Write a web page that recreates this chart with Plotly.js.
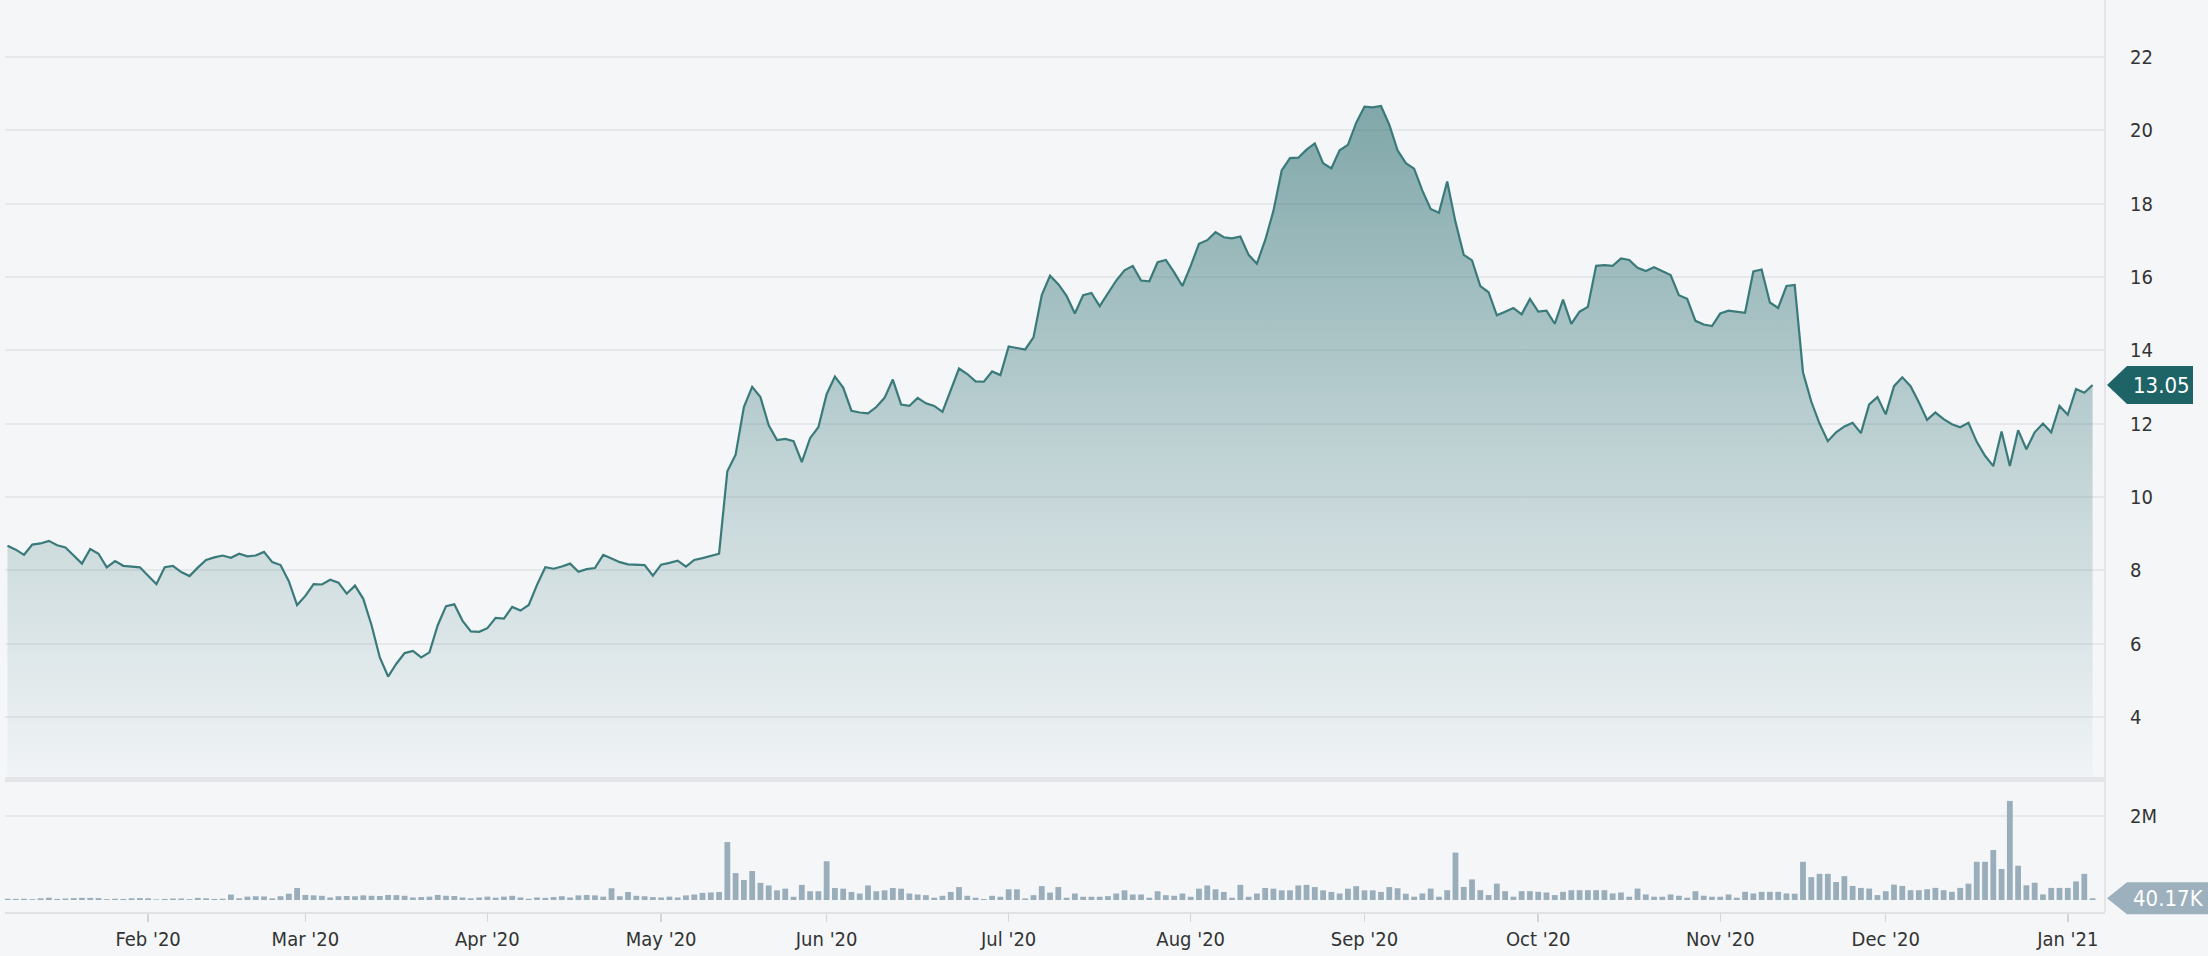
<!DOCTYPE html>
<html>
<head>
<meta charset="utf-8">
<script src="https://cdn.plot.ly/plotly-3.0.1.min.js"></script>
<style>
  html, body { margin: 0; padding: 0; background: #f4f6f8; }
  #chart { width: 2208px; height: 956px; }
</style>
</head>
<body>
<div id="chart"></div>
<script>
// trading calendar (weekends + market holidays skipped)
const FIRST_DAY = '2020-01-08';
const LAST_DAY = '2021-01-07';
const HOLIDAYS = [
    '2020-01-20', '2020-02-17', '2020-04-10', '2020-05-25', '2020-07-03',
    '2020-09-07', '2020-11-26', '2020-12-25', '2021-01-01',
];

const MONTH_TICKS = [
    '2020-02-03', '2020-03-02', '2020-04-01', '2020-05-01', '2020-06-01', '2020-07-01',
    '2020-08-03', '2020-09-01', '2020-10-01', '2020-11-02', '2020-12-01', '2021-01-04',
];
const MONTH_LABELS = [
    "Feb '20", "Mar '20", "Apr '20", "May '20", "Jun '20", "Jul '20",
    "Aug '20", "Sep '20", "Oct '20", "Nov '20", "Dec '20", "Jan '21",
];

// daily close
const PRICE = [
    8.67, 8.56, 8.42, 8.70, 8.73, 8.80, 8.68, 8.62, 8.40, 8.18,
    8.58, 8.45, 8.08, 8.25, 8.12, 8.10, 8.08, 7.85, 7.62, 8.08,
    8.12, 7.95, 7.84, 8.07, 8.28, 8.35, 8.40, 8.34, 8.45, 8.38,
    8.40, 8.50, 8.22, 8.14, 7.70, 7.05, 7.30, 7.62, 7.61, 7.74,
    7.66, 7.36, 7.58, 7.22, 6.50, 5.62, 5.10, 5.45, 5.74, 5.80,
    5.62, 5.76, 6.50, 7.02, 7.07, 6.62, 6.33, 6.32, 6.42, 6.70,
    6.68, 7.00, 6.90, 7.05, 7.60, 8.08, 8.04, 8.10, 8.18, 7.96,
    8.03, 8.06, 8.42, 8.32, 8.22, 8.16, 8.15, 8.14, 7.85, 8.15,
    8.20, 8.26, 8.10, 8.28, 8.33, 8.38, 8.45, 10.70, 11.15, 12.45,
    13.00, 12.72, 11.95, 11.55, 11.58, 11.52, 10.95, 11.60, 11.90, 12.80,
    13.28, 12.98, 12.35, 12.30, 12.28, 12.45, 12.70, 13.20, 12.52, 12.48,
    12.70, 12.55, 12.48, 12.32, 12.90, 13.50, 13.35, 13.15, 13.14, 13.42,
    13.32, 14.10, 14.06, 14.02, 14.35, 15.50, 16.03, 15.80, 15.48, 15.00,
    15.50, 15.56, 15.20, 15.55, 15.90, 16.18, 16.30, 15.90, 15.88, 16.40,
    16.46, 16.12, 15.75, 16.30, 16.90, 17.00, 17.22, 17.08, 17.05, 17.10,
    16.60, 16.36, 17.00, 17.80, 18.90, 19.24, 19.25, 19.47, 19.64, 19.10,
    18.96, 19.45, 19.60, 20.20, 20.64, 20.62, 20.66, 20.15, 19.45, 19.10,
    18.95, 18.35, 17.85, 17.75, 18.60, 17.50, 16.60, 16.45, 15.75, 15.58,
    14.95, 15.05, 15.15, 14.98, 15.40, 15.05, 15.08, 14.72, 15.38, 14.72,
    15.05, 15.18, 16.30, 16.32, 16.30, 16.50, 16.46, 16.25, 16.16, 16.26,
    16.15, 16.05, 15.50, 15.40, 14.80, 14.70, 14.66, 15.00, 15.08, 15.06,
    15.02, 16.15, 16.20, 15.30, 15.15, 15.75, 15.78, 13.40, 12.60, 12.00,
    11.52, 11.76, 11.92, 12.02, 11.74, 12.52, 12.72, 12.25, 13.02, 13.26,
    13.02, 12.58, 12.10, 12.30, 12.12, 11.98, 11.90, 12.02, 11.50, 11.12,
    10.84, 11.78, 10.84, 11.82, 11.30, 11.76, 12.00, 11.76, 12.48, 12.24,
    12.94, 12.84, 13.05,
];

// daily volume, thousands of shares
const VOLUME_K = [
    30, 25, 30, 20, 40, 55, 25, 35, 45, 50,
    50, 45, 20, 30, 25, 40, 45, 40, 15, 25,
    35, 35, 20, 50, 40, 25, 30, 130, 40, 80,
    90, 85, 40, 90, 150, 285, 120, 110, 100, 60,
    90, 95, 90, 110, 100, 95, 120, 115, 100, 60,
    70, 80, 120, 100, 95, 60, 40, 60, 80, 55,
    80, 100, 60, 30, 60, 50, 70, 90, 60, 110,
    120, 110, 80, 280, 90, 190, 100, 90, 70, 60,
    80, 60, 110, 130, 170, 180, 190, 1380, 640, 477,
    690, 408, 346, 230, 270, 77, 360, 208, 208, 923,
    285, 270, 192, 154, 346, 208, 230, 285, 270, 154,
    131, 115, 54, 100, 192, 308, 100, 54, 23, 100,
    77, 254, 254, 38, 115, 330, 177, 308, 54, 154,
    77, 77, 77, 92, 154, 230, 131, 131, 54, 208,
    115, 100, 154, 77, 270, 346, 254, 192, 54, 360,
    77, 154, 285, 270, 230, 230, 346, 360, 308, 230,
    192, 154, 270, 330, 230, 230, 192, 308, 280, 150,
    78, 156, 272, 78, 233, 1130, 311, 490, 233, 117,
    389, 210, 78, 210, 210, 195, 179, 117, 195, 233,
    233, 233, 233, 233, 156, 179, 78, 272, 132, 78,
    78, 132, 101, 54, 210, 101, 78, 78, 132, 54,
    195, 156, 195, 195, 195, 156, 150, 910, 545, 623,
    623, 428, 568, 335, 288, 272, 117, 210, 366, 335,
    233, 233, 257, 288, 233, 195, 288, 389, 910, 910,
    1190, 739, 2360, 817, 350, 412, 132, 288, 288, 288,
    443, 623, 40.17,
];

const PRICE_TICKS = [4, 6, 8, 10, 12, 14, 16, 18, 20, 22];
const VOLUME_TICKS = [2000];
const VOLUME_TICK_LABELS = ['2M'];
const LAST_VOLUME_LABEL = '40.17K';

const BG = '#f4f6f8';
const FONT = "'Liberation Sans Narrow', 'DejaVu Sans Condensed', Roboto, sans-serif";
const PRICE_DOMAIN = [0.148, 1];
const VOLUME_DOMAIN = [0, 0.1425];
const PRICE_RANGE = [2.36, 23.55];
const VOLUME_RANGE = [-286, 2810];

function tradingDays(first, last, holidays) {
    const out = [];
    const d = new Date(first + 'T00:00:00Z');
    const end = new Date(last + 'T00:00:00Z');
    while (d <= end) {
        const iso = d.toISOString().slice(0, 10);
        const wd = d.getUTCDay();
        if (wd !== 0 && wd !== 6 && !holidays.includes(iso)) out.push(iso);
        d.setUTCDate(d.getUTCDate() + 1);
    }
    return out;
}

// value -> paper fraction, for the badges that sit outside the plot
const toPaper = (v, range, domain) =>
    domain[0] + (v - range[0]) / (range[1] - range[0]) * (domain[1] - domain[0]);

function buildFigure() {
    const days = tradingDays(FIRST_DAY, LAST_DAY, HOLIDAYS);
    if (days.length !== PRICE.length) console.warn('calendar mismatch', days.length, PRICE.length);

    const lastPrice = PRICE[PRICE.length - 1];
    const lastVolume = VOLUME_K[VOLUME_K.length - 1];
    const xRange = [-0.3, days.length + 0.5];

    const traces = [
        {
            type: 'bar',
            x: days,
            y: VOLUME_K,
            xaxis: 'x',
            yaxis: 'y',
            marker: { color: '#9aadbb' },
            hoverinfo: 'skip',
        },
        {
            type: 'scatter',
            mode: 'lines',
            x: days,
            y: PRICE,
            xaxis: 'x2',
            yaxis: 'y2',
            line: { color: '#3a7a7b', width: 2.2 },
            fill: 'tozeroy',
            fillgradient: {
                type: 'vertical',
                start: 2.4,
                stop: 21,
                colorscale: [
                    [0, 'rgba(47,112,114,0.02)'],
                    [0.19, 'rgba(47,112,114,0.12)'],
                    [0.41, 'rgba(47,112,114,0.23)'],
                    [0.62, 'rgba(47,112,114,0.36)'],
                    [1, 'rgba(47,112,114,0.60)'],
                ],
            },
            hoverinfo: 'skip',
        },
    ];

    const yTickCommon = {
        side: 'right',
        showgrid: true,
        gridcolor: '#e6e8eb',
        gridwidth: 2,
        zeroline: false,
        showline: false,
        ticks: 'outside',
        ticklen: 20,
        tickcolor: 'rgba(0,0,0,0)',
        tickfont: { size: 20, color: '#333', family: FONT },
        fixedrange: true,
    };

    const pricePaper = toPaper(lastPrice, PRICE_RANGE, PRICE_DOMAIN);
    const volumePaper = toPaper(lastVolume, VOLUME_RANGE, VOLUME_DOMAIN);

    const layout = {
        width: 2208,
        height: 956,
        margin: { l: 5, r: 103, t: 0, b: 44 },
        paper_bgcolor: BG,
        plot_bgcolor: BG,
        showlegend: false,
        bargap: 0.3,
        font: { family: FONT, color: '#333' },
        xaxis: {
            type: 'category',
            anchor: 'y',
            range: xRange,
            tickvals: MONTH_TICKS,
            ticktext: MONTH_LABELS,
            tickangle: 0,
            ticks: 'outside',
            ticklen: 8,
            tickwidth: 1.5,
            tickcolor: '#d2d6da',
            showline: true,
            linecolor: '#dfe2e5',
            linewidth: 2,
            showgrid: false,
            tickfont: { size: 20, color: '#333', family: FONT },
            fixedrange: true,
        },
        xaxis2: {
            type: 'category',
            anchor: 'y2',
            matches: 'x',
            showticklabels: false,
            showgrid: false,
            showline: false,
            ticks: '',
        },
        yaxis: {
            ...yTickCommon,
            domain: VOLUME_DOMAIN,
            range: VOLUME_RANGE,
            tickvals: VOLUME_TICKS,
            ticktext: VOLUME_TICK_LABELS,
        },
        yaxis2: {
            ...yTickCommon,
            domain: PRICE_DOMAIN,
            range: PRICE_RANGE,
            tickvals: PRICE_TICKS,
        },
        shapes: [
            // band between price and volume panes
            {
                type: 'rect', xref: 'paper', yref: 'paper',
                x0: 0, x1: 1, y0: VOLUME_DOMAIN[1], y1: PRICE_DOMAIN[0],
                fillcolor: '#e3e5e8', line: { width: 0 },
            },
            // right border
            {
                type: 'line', xref: 'paper', yref: 'paper',
                x0: 1, x1: 1, y0: 0, y1: 1,
                line: { color: '#e3e5e8', width: 2 },
            },
            // last price badge
            {
                type: 'path', xref: 'paper', yref: 'paper',
                xsizemode: 'pixel', ysizemode: 'pixel',
                xanchor: 1, yanchor: pricePaper,
                path: 'M2,0 L22,19 L88,19 L88,-19 L22,-19 Z',
                fillcolor: '#1e6366', line: { width: 0 },
            },
            // last volume badge
            {
                type: 'path', xref: 'paper', yref: 'paper',
                xsizemode: 'pixel', ysizemode: 'pixel',
                xanchor: 1, yanchor: volumePaper,
                path: 'M2,0 L22,16 L120,16 L120,-16 L22,-16 Z',
                fillcolor: '#9db0bd', line: { width: 0 },
            },
        ],
        annotations: [
            {
                xref: 'paper', yref: 'paper',
                x: 1, y: pricePaper,
                xanchor: 'left', yanchor: 'middle',
                xshift: 26,
                text: lastPrice.toFixed(2),
                showarrow: false,
                font: { size: 22, color: '#ffffff', family: FONT },
            },
            {
                xref: 'paper', yref: 'paper',
                x: 1, y: volumePaper,
                xanchor: 'left', yanchor: 'middle',
                xshift: 26,
                text: LAST_VOLUME_LABEL,
                showarrow: false,
                font: { size: 22, color: '#ffffff', family: FONT },
            },
        ],
    };

    const config = { staticPlot: true, displayModeBar: false };

    return { traces, layout, config };
}

const fig = buildFigure();
Plotly.newPlot('chart', fig.traces, fig.layout, fig.config);
</script>
</body>
</html>
